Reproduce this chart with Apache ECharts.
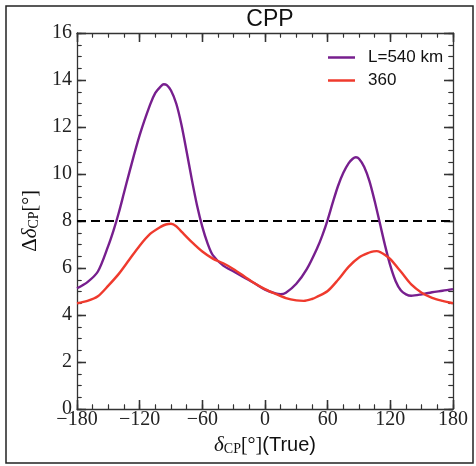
<!DOCTYPE html>
<html>
<head>
<meta charset="utf-8">
<script src="https://cdn.jsdelivr.net/npm/echarts@6/dist/echarts.min.js"></script>
<style>
  html, body { margin: 0; padding: 0; background: #fff; }
  #chart { width: 476px; height: 466px; }
</style>
</head>
<body>
<div id="chart"></div>
<script>
// delta_CP (true) values, degrees
const xL540 = [-180, -170, -160, -150, -145, -140, -135, -130, -120, -110, -105, -100, -97, -94, -90, -85, -80, -75, -70, -65, -60, -55, -50, -40, -30, -20, -10, 0, 10, 15, 20, 30, 40, 50, 55, 60, 65, 70, 75, 80, 84, 87, 90, 95, 100, 105, 110, 115, 120, 125, 130, 135, 140, 150, 160, 170, 180]
const yL540 = [5.14, 5.4, 5.85, 6.95, 7.6, 8.35, 9.2, 10.05, 11.65, 12.95, 13.45, 13.72, 13.82, 13.78, 13.55, 13.0, 12.1, 10.95, 9.75, 8.65, 7.75, 7.05, 6.55, 6.1, 5.85, 5.6, 5.35, 5.08, 4.92, 4.89, 4.95, 5.33, 5.95, 6.85, 7.4, 8.05, 8.8, 9.5, 10.05, 10.45, 10.65, 10.71, 10.65, 10.3, 9.7, 8.85, 7.9, 6.95, 6.1, 5.45, 5.05, 4.88, 4.82, 4.88, 4.97, 5.03, 5.1]

const xL360 = [-180, -170, -160, -150, -140, -130, -120, -110, -100, -95, -90, -85, -80, -70, -60, -50, -40, -30, -20, -10, 0, 10, 20, 30, 37, 45, 50, 60, 70, 80, 90, 100, 104, 107, 111, 115, 120, 130, 140, 150, 160, 170, 180]
const yL360 = [4.5, 4.6, 4.8, 5.25, 5.75, 6.35, 6.95, 7.45, 7.75, 7.85, 7.88, 7.78, 7.55, 7.1, 6.7, 6.4, 6.2, 5.95, 5.65, 5.35, 5.1, 4.9, 4.72, 4.62, 4.6, 4.68, 4.78, 5.02, 5.5, 6.05, 6.45, 6.66, 6.71, 6.72, 6.66, 6.55, 6.38, 5.85, 5.3, 4.95, 4.73, 4.6, 4.5]

const threshold = 8
const legendNames = ['L=540 km', '360']

const chart = echarts.init(document.getElementById('chart'))

const pairs = (xs, ys) => xs.map((x, i) => [x, ys[i]])
const minus = v => String(v).replace('-', '\u2212')

const serif = 'Liberation Serif'
const axisCol = '#333'
const plot = { left: 77, right: 23, top: 33, bottom: 57 }
const xRange = { min: -180, max: 180, interval: 60 }
const yRange = { min: 0, max: 16, interval: 2 }

function axisBase(r) {
  return {
    type: 'value',
    min: r.min,
    max: r.max,
    interval: r.interval,
    splitLine: { show: true, lineStyle: { color: 'rgba(0,0,0,0)' } },
    axisLine: { show: true, onZero: false, lineStyle: { color: axisCol, width: 1.3 } },
    axisTick: { show: true, inside: true, length: 9, lineStyle: { color: axisCol, width: 1.3 } },
    minorTick: { show: true, splitNumber: 4, length: 4.5, lineStyle: { color: axisCol, width: 1.1 } }
  }
}

const nameRich = {
  u: { fontFamily: serif, fontSize: 21, color: '#111', verticalAlign: 'bottom', lineHeight: 24 },
  i: { fontFamily: serif, fontStyle: 'italic', fontSize: 21, color: '#111', verticalAlign: 'bottom', lineHeight: 24 },
  s: { fontFamily: serif, fontSize: 14, color: '#111', verticalAlign: 'bottom', lineHeight: 18 },
  n: { fontFamily: serif, fontSize: 20, color: '#111', verticalAlign: 'bottom', lineHeight: 24 },
  t: { fontFamily: 'Liberation Sans', fontSize: 20, color: '#111', verticalAlign: 'bottom', lineHeight: 24 }
}

const grids = [Object.assign({}, plot)]
const xAxes = [
  Object.assign(axisBase(xRange), {
    gridIndex: 0,
    position: 'bottom',
    axisLabel: { formatter: minus, fontFamily: serif, fontSize: 20, color: '#222', margin: 1 },
    name: '{i|δ}{s|CP}{n|[°]}{t|(True)}',
    nameLocation: 'middle',
    nameGap: 22,
    nameTextStyle: { rich: nameRich }
  }),
  Object.assign(axisBase(xRange), { gridIndex: 0, position: 'top', axisLabel: { show: false } })
]
const yAxes = [
  Object.assign(axisBase(yRange), {
    gridIndex: 0,
    position: 'left',
    axisLabel: { fontFamily: serif, fontSize: 20, color: '#222', margin: 5 },
    name: '{u|Δ}{i|δ}{s|CP}{n|[°]}',
    nameLocation: 'middle',
    nameRotate: 90,
    nameGap: 28,
    nameTextStyle: { rich: nameRich }
  }),
  Object.assign(axisBase(yRange), { gridIndex: 0, position: 'right', axisLabel: { show: false } })
]

// thin strips along each frame edge: their split lines act as the inward tick marks
function tickStrip(side, len, minor) {
  const g = { left: plot.left, right: plot.right, top: plot.top, bottom: plot.bottom }
  if (side === 'bottom') { delete g.top; g.height = len }
  if (side === 'top') { delete g.bottom; g.height = len }
  if (side === 'left') { delete g.right; g.width = len }
  if (side === 'right') { delete g.left; g.width = len }
  const gi = grids.length
  grids.push(g)
  const horizontal = side === 'bottom' || side === 'top'
  const r = horizontal ? xRange : yRange
  const ticking = {
    type: 'value',
    gridIndex: gi,
    min: r.min,
    max: r.max,
    interval: r.interval,
    axisLine: { show: false },
    axisTick: { show: false },
    axisLabel: { show: false },
    minorTick: { show: false, splitNumber: 4 },
    splitLine: { show: true, lineStyle: { color: axisCol, width: 1.3 } },
    minorSplitLine: { show: minor, lineStyle: { color: axisCol, width: 1.1 } }
  }
  const hidden = { type: 'value', gridIndex: gi, show: false, min: 0, max: 1 }
  xAxes.push(horizontal ? ticking : hidden)
  yAxes.push(horizontal ? hidden : ticking)
}
;['bottom', 'top', 'left', 'right'].forEach(side => {
  tickStrip(side, 9, false)
  tickStrip(side, 4.5, true)
})

const option = {
  animation: false,
  backgroundColor: '#fff',
  title: {
    text: 'CPP',
    left: 265,
    textAlign: 'center',
    top: 3,
    textStyle: { fontFamily: 'Liberation Sans', fontSize: 23, fontWeight: 'normal', color: '#111' }
  },
  legend: {
    data: legendNames,
    orient: 'vertical',
    left: 323,
    top: 44,
    icon: 'rect',
    itemWidth: 27,
    itemHeight: 2.5,
    itemGap: 6,
    textStyle: { fontFamily: 'Liberation Sans', fontSize: 17, color: '#111', padding: [0, 0, 0, 8], lineHeight: 17 }
  },
  grid: grids,
  xAxis: xAxes,
  yAxis: yAxes,
  series: [
    {
      name: legendNames[0],
      type: 'line',
      xAxisIndex: 0,
      yAxisIndex: 0,
      data: pairs(xL540, yL540),
      smooth: 0.3,
      symbol: 'none',
      lineStyle: { color: '#771f8e', width: 2.4 },
      itemStyle: { color: '#771f8e' },
      z: 3
    },
    {
      name: legendNames[1],
      type: 'line',
      xAxisIndex: 0,
      yAxisIndex: 0,
      data: pairs(xL360, yL360),
      smooth: 0.3,
      symbol: 'none',
      lineStyle: { color: '#ef3a2d', width: 2.4 },
      itemStyle: { color: '#ef3a2d' },
      z: 4
    },
    {
      name: 'threshold',
      type: 'line',
      xAxisIndex: 0,
      yAxisIndex: 0,
      data: [[-180, threshold], [180, threshold]],
      symbol: 'none',
      lineStyle: { color: '#000', width: 2, type: [9, 5] },
      z: 2
    }
  ],
  graphic: [
    {
      type: 'rect',
      shape: { x: 6, y: 6, width: 467, height: 457 },
      style: { fill: 'none', stroke: '#222', lineWidth: 1.5 },
      silent: true
    }
  ]
}

chart.setOption(option)
</script>
</body>
</html>
